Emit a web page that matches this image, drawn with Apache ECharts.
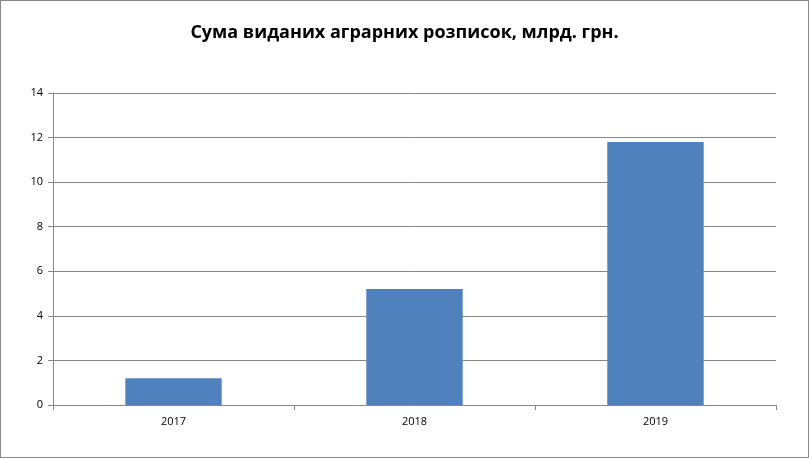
<!DOCTYPE html>
<html><head><meta charset="utf-8">
<script src="https://cdn.jsdelivr.net/npm/echarts@6/dist/echarts.min.js"></script>
<style>html,body{margin:0;padding:0;background:#fff}
#c{width:807px;height:456px;border:1px solid #888}</style>
</head><body>
<div id="c"></div>
<script>
var years = ['2017', '2018', '2019'];
var amounts = [1.2, 5.2, 11.8];

var chart = echarts.init(document.getElementById('c'));
chart.setOption({
    animation: false,
    title: {
        text: 'Сума виданих аграрних розписок, млрд. грн.',
        left: 'center', top: 18,
        textStyle: {fontFamily: 'Open Sans', fontSize: 18, fontWeight: 'bold', color: '#000'}
    },
    grid: {left: 52, right: 32, top: 92, bottom: 52},
    xAxis: {
        type: 'category', data: years,
        axisLine: {lineStyle: {color: '#888'}},
        axisTick: {show: true, length: 5, lineStyle: {color: '#888'}},
        axisLabel: {color: '#000', fontSize: 11, fontFamily: 'Open Sans', margin: 11}
    },
    yAxis: {
        type: 'value', min: 0, max: 14, interval: 2,
        axisLine: {show: true, lineStyle: {color: '#888'}},
        axisTick: {show: true, length: 5, lineStyle: {color: '#888'}},
        splitLine: {lineStyle: {color: '#888'}},
        axisLabel: {color: '#000', fontSize: 11, fontFamily: 'Open Sans', margin: 10}
    },
    series: [{
        type: 'bar', data: amounts, barWidth: '40%',
        itemStyle: {color: '#4f81bd'}
    }]
});
</script>
</body></html>
